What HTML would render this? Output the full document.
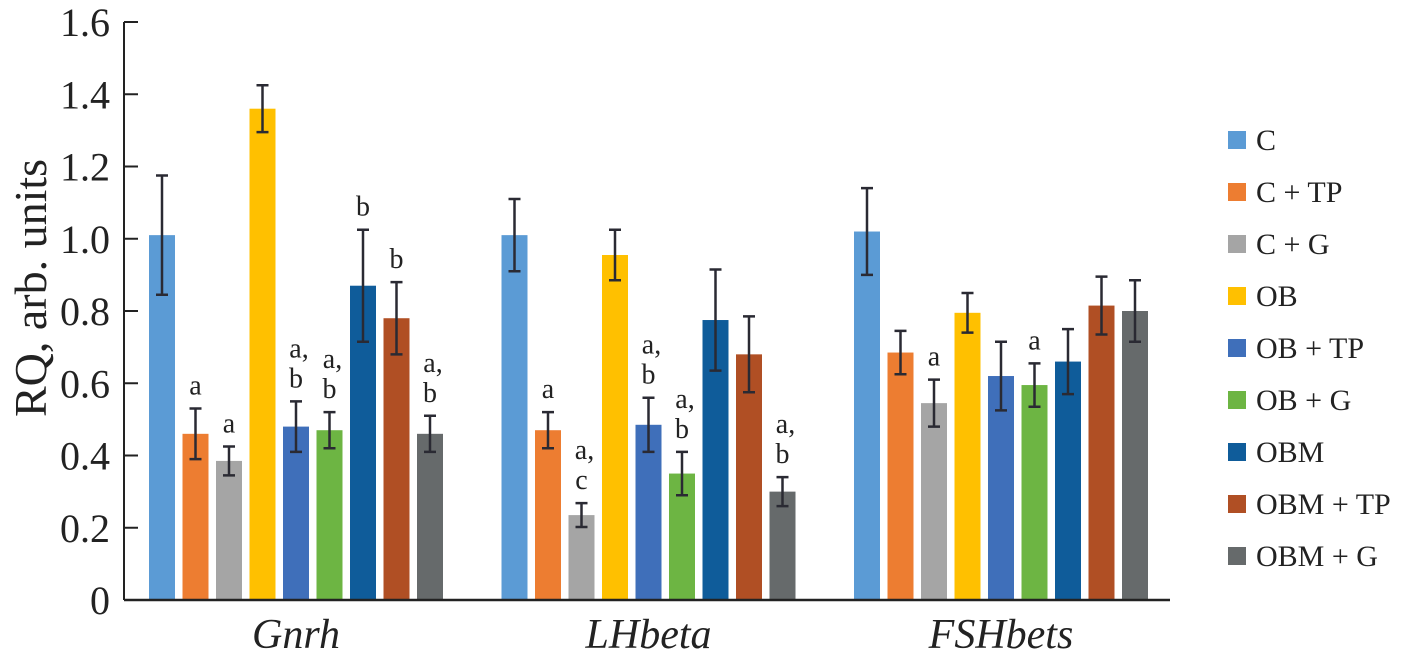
<!DOCTYPE html>
<html><head><meta charset="utf-8"><style>
body{margin:0;background:#fff;}
svg text{font-family:"Liberation Serif",serif;fill:#222;}
</style></head><body>
<svg id="chart" width="1416" height="660" xmlns="http://www.w3.org/2000/svg"></svg>
<script>
const genes = ["Gnrh", "LHbeta", "FSHbets"];
const groups = ["C", "C + TP", "C + G", "OB", "OB + TP", "OB + G", "OBM", "OBM + TP", "OBM + G"];
const colors = ["#5b9bd5", "#ed7d31", "#a5a5a5", "#ffc000", "#3f6fba", "#6db543", "#0f5c9a", "#b04f24", "#666a6b"];
const gnrhValues = [1.01, 0.46, 0.385, 1.36, 0.48, 0.47, 0.87, 0.78, 0.46];
const gnrhErr = [0.165, 0.07, 0.04, 0.065, 0.07, 0.05, 0.155, 0.10, 0.05];
const lhValues = [1.01, 0.47, 0.235, 0.955, 0.485, 0.35, 0.775, 0.68, 0.30];
const lhErr = [0.10, 0.05, 0.033, 0.07, 0.075, 0.06, 0.14, 0.105, 0.04];
const fshValues = [1.02, 0.685, 0.545, 0.795, 0.62, 0.595, 0.66, 0.815, 0.80];
const fshErr = [0.12, 0.06, 0.065, 0.055, 0.095, 0.06, 0.09, 0.08, 0.085];
const gnrhLetters = ["", "a", "a", "", "a,|b", "a,|b", "b", "b", "a,|b"];
const lhLetters = ["", "a", "a,|c", "", "a,|b", "a,|b", "", "", "a,|b"];
const fshLetters = ["", "", "a", "", "", "a", "", "", ""];
const yTicks = [0, 0.2, 0.4, 0.6, 0.8, 1.0, 1.2, 1.4, 1.6];
const yTickLabels = ["0", "0.2", "0.4", "0.6", "0.8", "1.0", "1.2", "1.4", "1.6"];

const NS = "http://www.w3.org/2000/svg";
const svg = document.getElementById("chart");
function mk(tag, attrs, parent) {
  const e = document.createElementNS(NS, tag);
  for (const k in attrs) e.setAttribute(k, attrs[k]);
  (parent || svg).appendChild(e);
  return e;
}
const y0 = 600, yMax = 1.6, yTop = 22;
function yScale(v) { return y0 - v / yMax * (y0 - yTop); }
const axisX = 124, groupStart = 149, groupStep = 352.5, barStep = 33.5, barW = 26;
function xBar(g, i) { return groupStart + g * groupStep + i * barStep; }

let el = mk("line", {x1: axisX, y1: yTop, x2: axisX, y2: y0, stroke: "#222", "stroke-width": 2});


yTicks.forEach((t, i) => {
  const y = yScale(t);
  const tk = mk("line", {x1: axisX, y1: y, x2: axisX + 14, y2: y, stroke: "#222", "stroke-width": 2});
  
  
  const tl = mk("text", {x: 110, y: y + 14, "text-anchor": "end", "font-size": 40});
  tl.textContent = yTickLabels[i];
  
  
});
el = mk("text", {x: 0, y: 0, "text-anchor": "middle", "font-size": 46, transform: "translate(46,288) rotate(-90)"});
el.textContent = "RQ, arb. units";



const allVals = [gnrhValues, lhValues, fshValues];
const allErr = [gnrhErr, lhErr, fshErr];
const allLetters = [gnrhLetters, lhLetters, fshLetters];
genes.forEach((gene, g) => {
  allVals[g].forEach((v, i) => {
    const x = xBar(g, i);
    const r = mk("rect", {x: x, y: yScale(v), width: barW, height: y0 - yScale(v), fill: colors[i]});
    
    
    const e = allErr[g][i], cx = x + barW / 2;
    const yt = yScale(v + e), yb = yScale(v - e);
    const eb = mk("path", {d: `M${cx},${yt}V${yb}M${cx-6},${yt}H${cx+6}M${cx-6},${yb}H${cx+6}`, stroke: "#2a2a33", "stroke-width": 2.5, fill: "none"});
    
    
    const lt = allLetters[g][i];
    if (lt) {
      const lines = lt.split("|");
      lines.forEach((ln, k) => {
        const t = mk("text", {x: cx + (ln.length > 1 ? 3 : 0), y: yt - 14 - (lines.length - 1 - k) * 30, "text-anchor": "middle", "font-size": 28});
        t.textContent = ln;
        
        
      });
    }
  });
  const gl = mk("text", {x: xBar(g, 4) + barW / 2, y: 648, "text-anchor": "middle", "font-size": 42, "font-style": "italic"});
  gl.textContent = gene;
  
  
});
el = mk("line", {x1: axisX, y1: y0, x2: 1170, y2: y0, stroke: "#222", "stroke-width": 2.5});



groups.forEach((name, i) => {
  const y = 140 + i * 52;
  const s = mk("rect", {x: 1228, y: y - 9, width: 18, height: 18, fill: colors[i]});
  
  
  const t = mk("text", {x: 1256, y: y + 10, "font-size": 30});
  t.textContent = name;
  
  
});
</script>
</body></html>
